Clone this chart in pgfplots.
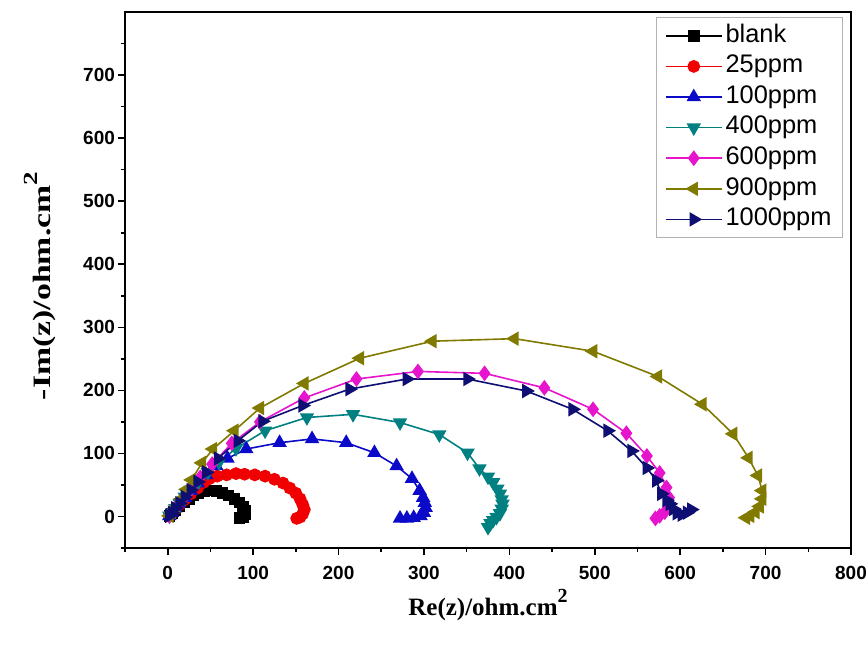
\documentclass[border=0pt]{standalone}
\usepackage{fontspec}
\setmainfont{Liberation Sans}
\newfontfamily\timesf{Liberation Serif}
\usepackage{pgfplots}
\pgfplotsset{compat=1.18}
\definecolor{cblank}{RGB}{0,0,0}
\definecolor{c25}{RGB}{240,0,0}
\definecolor{c100}{RGB}{10,10,200}
\definecolor{c400}{RGB}{0,128,128}
\definecolor{c600}{RGB}{230,20,205}
\definecolor{c900}{RGB}{128,122,0}
\definecolor{c1000}{RGB}{15,15,115}
\begin{document}
\begin{tikzpicture}
\begin{axis}[
 scale only axis, width=363pt, height=268pt,
 xmin=-50, xmax=800, ymin=-50, ymax=800,
 xtick={0,100,...,800}, ytick={0,100,...,700},
 minor xtick={-50,50,...,750}, minor ytick={-50,50,...,750},
 tick align=outside, tick pos=left,
 major tick length=3.5pt, minor tick length=2pt,
 axis line style={line width=0.9pt},
 every tick/.style={black, line width=0.8pt},
 /pgf/number format/assume math mode=true,
 ticklabel style={font=\fontsize{9.5}{11}\selectfont\bfseries},
 xticklabel style={yshift=-2pt},
 yticklabel style={xshift=2pt},
 xlabel={\fontsize{12.5}{14}\timesf\bfseries Re(z)/ohm.cm\raisebox{0.5em}{\fontsize{10}{10}\selectfont 2}},
 ylabel={\scalebox{1.35}[1]{\fontsize{12.5}{14}\timesf\bfseries -Im(z)/ohm.cm\raisebox{0.5em}{\fontsize{10}{10}\selectfont 2}}},
 xlabel style={at={(rel axis cs:0.5,0)}, anchor=center, yshift=-28.5pt},
 ylabel style={at={(rel axis cs:0,0.5)}, anchor=center, yshift=42.5pt, xshift=-3pt},
 legend style={at={(rel axis cs:1,1)}, anchor=north east, xshift=-4pt, yshift=-2.5pt,
   draw=gray!60, line width=0.5pt, font=\fontsize{12.7}{15}\selectfont,
   row sep=0pt, inner xsep=4pt, inner ysep=1.5pt,
   cells={anchor=west}, nodes={inner sep=1.5pt, text height=9.3pt, text depth=3pt}},
 legend image code/.code={\draw[mark repeat=2,mark phase=2,#1] plot coordinates {(0pt,0pt)(14pt,0pt)(28pt,0pt)};},
 every axis plot/.append style={line width=0.8pt},
]
\addplot[cblank, mark=square*, mark size=2.5pt, mark options={solid}] coordinates {
(2,1)(5,5)(9,10)(14,16)(19,22)(25,28)(30,33)(36,37)(43,40)(50,41)(57,40)(64,37)(71,33)(78,28)(84,22)(88,15)(91,9)(91,3)(88,-1)(84,-2)};
\addlegendentry{blank}
\addplot[c25, mark=*, mark size=2.8pt, mark options={solid}] coordinates {
(2,1)(5,6)(9,12)(14,19)(20,27)(27,36)(35,45)(42,54)(49,60)(58,64)(69,66)(80,68)(90,67)(102,66)(114,64)(125,59)(135,53)(143,45)(150,37)(155,28)(158,19)(160,11)(158,4)(155,-1)(151,-3)};
\addlegendentry{25ppm}
\addplot[c100, mark=triangle*, mark size=3.4pt, mark options={solid}] coordinates {
(2,1)(5,6)(9,13)(14,21)(20,30)(27,41)(35,53)(45,66)(57,80)(70,92)(92,107)(131,117)(169,123)(209,117)(242,101)(268,80)(286,60)(295,41)(299,30)(301,22)(302,14)(300,6)(296,1)(288,-2)(280,-3)(272,-3)};
\addlegendentry{100ppm}
\addplot[c400, mark=triangle*, mark size=3.4pt, mark options={solid,rotate=180}] coordinates {
(2,1)(5,6)(9,13)(14,21)(20,31)(27,42)(36,55)(47,70)(60,86)(80,108)(114,136)(163,157)(217,162)(272,149)(318,130)(351,101)(365,76)(375,63)(381,54)(386,44)(389,36)(391,27)(392,20)(391,12)(389,5)(385,-1)(381,-6)(378,-11)(375,-17)};
\addlegendentry{400ppm}
\addplot[c600, mark=diamond*, mark size=3.3pt, mark options={solid}] coordinates {
(2,1)(5,6)(9,13)(14,22)(20,32)(28,45)(38,62)(52,83)(75,116)(108,150)(160,188)(221,218)(293,230)(371,227)(441,204)(498,170)(537,132)(561,96)(576,69)(584,46)(587,30)(586,17)(582,7)(576,1)(571,-3)};
\addlegendentry{600ppm}
\addplot[c900, mark=triangle*, mark size=3.4pt, mark options={solid,rotate=90}] coordinates {
(2,1)(5,7)(10,16)(16,28)(22,43)(28,58)(40,85)(53,107)(78,136)(108,172)(160,211)(225,251)(310,278)(406,282)(498,262)(574,222)(626,178)(662,131)(680,93)(691,65)(696,41)(696,28)(693,16)(688,7)(682,1)(677,-2)};
\addlegendentry{900ppm}
\addplot[c1000, mark=triangle*, mark size=3.4pt, mark options={solid,rotate=-90}] coordinates {
(2,1)(5,6)(9,13)(14,21)(20,31)(27,42)(35,55)(45,70)(59,92)(82,120)(111,151)(158,176)(213,202)(280,218)(351,218)(420,199)(474,170)(515,136)(543,104)(561,77)(572,57)(578,36)(584,26)(588,20)(592,12)(596,5)(602,3)(608,6)(613,11)};
\addlegendentry{1000ppm}
\coordinate (SW) at (rel axis cs:0,0);
\coordinate (NE) at (rel axis cs:1,1);
\end{axis}
\pgfresetboundingbox
\path[use as bounding box] ([xshift=-62.5pt,yshift=-50pt]SW) rectangle ([xshift=8pt,yshift=6pt]NE);
\end{tikzpicture}
\end{document}
